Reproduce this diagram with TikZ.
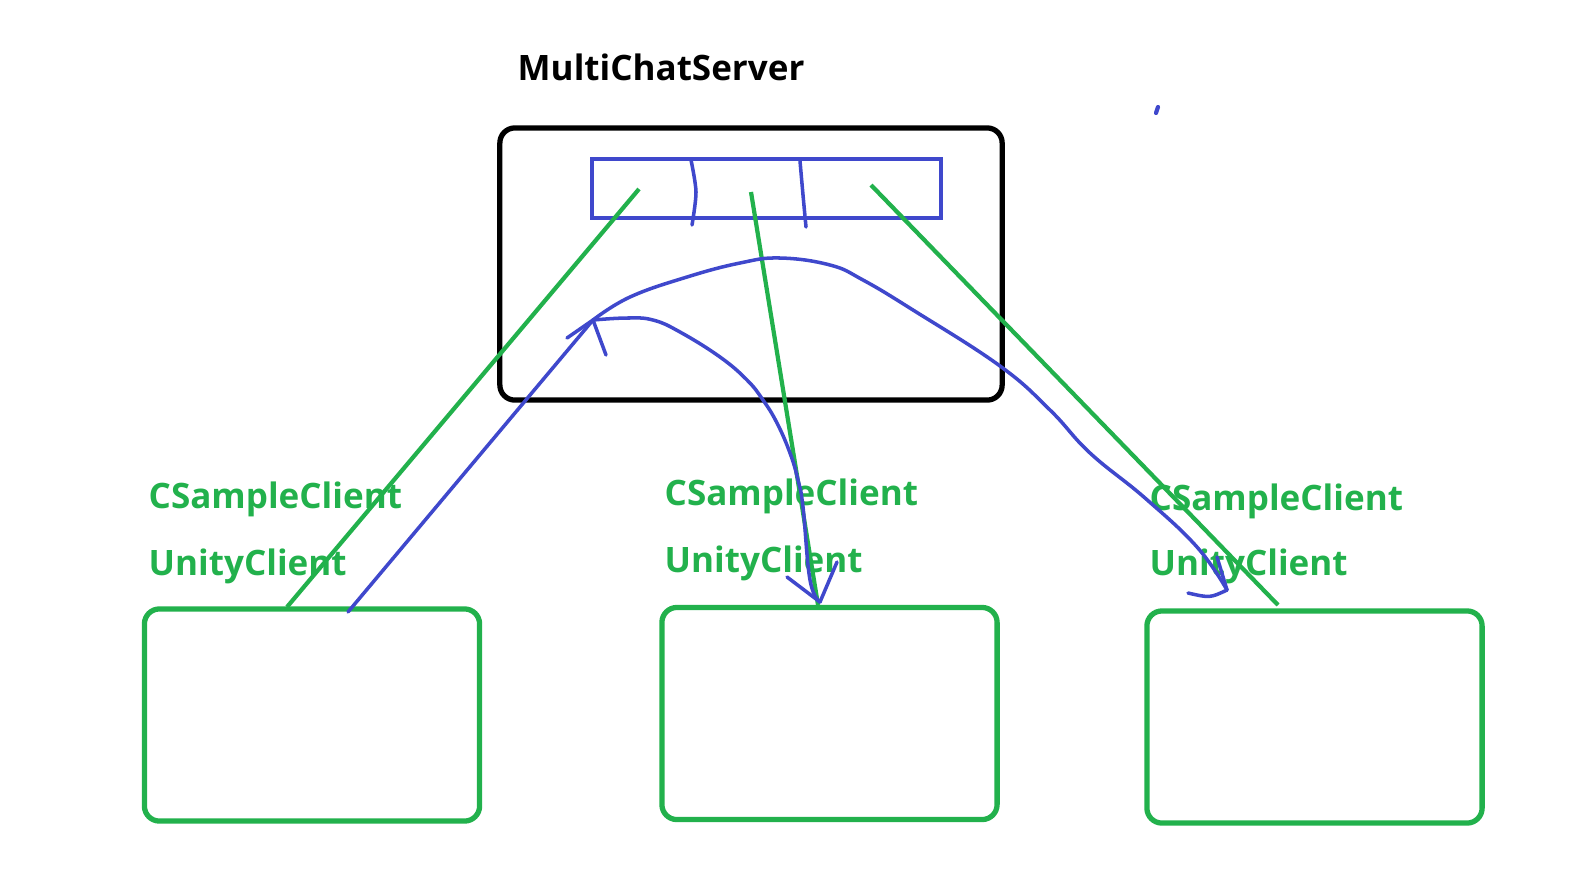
\documentclass[tikz,border=0pt]{standalone}
\usepackage{fontspec}
\setmainfont{Open Sans}
\usetikzlibrary{calc, positioning}
\definecolor{paintgreen}{RGB}{34,177,76}
\definecolor{paintblue}{RGB}{63,72,204}
\tikzstyle{serverbox} = [rectangle, rounded corners=0.15cm, minimum width=5.02cm, minimum height=2.72cm, draw=black, line width=1.5pt, inner sep=0]
\tikzstyle{queuebox} = [rectangle, minimum width=3.49cm, minimum height=0.59cm, draw=paintblue, line width=1.2pt, inner sep=0]
\tikzstyle{clientbox} = [rectangle, rounded corners=0.15cm, minimum width=3.35cm, minimum height=2.12cm, draw=paintgreen, line width=1.5pt, inner sep=0]
\tikzstyle{clientlabel} = [anchor=base west, inner sep=0, text=paintgreen, font=\fontsize{9.96pt}{12pt}\selectfont\bfseries]
\tikzstyle{servertitle} = [anchor=base west, inner sep=0, font=\fontsize{9.96pt}{12pt}\selectfont\bfseries]
\tikzstyle{wire} = [draw=paintgreen, line width=1.2pt]
\tikzstyle{penstroke} = [draw=paintblue, line width=1pt, line cap=round, line join=round]

\begin{document}
\begin{tikzpicture}[x=0.01cm, y=-0.01cm]
\useasboundingbox (0,0) rectangle (1585,869);

\node (title) [servertitle] at (517,80) {MultiChatServer};
\node (server) [serverbox] at (751,264) {};
\node (queue) [queuebox] at (766.5,188.5) {};

\node (client1) [clientbox] at (312,715) {};
\node (client2) [clientbox] at (829.5,713.5) {};
\node (client3) [clientbox] at (1314.5,717) {};

\node (csample1) [clientlabel] at (148,508) {CSampleClient};
\node (unity1) [clientlabel] at (148,575) {UnityClient};
\node (csample2) [clientlabel] at (664,505) {CSampleClient};
\node (unity2) [clientlabel] at (664,572) {UnityClient};
\node (csample3) [clientlabel] at (1149,510) {CSampleClient};
\node (unity3) [clientlabel] at (1149,575) {UnityClient};

% green links from the queue down to the clients
\coordinate (slot1) at (639,189);
\coordinate (slot2) at (751,192);
\coordinate (slot3) at (871,185);
\coordinate (port1) at (287,607);
\coordinate (port2) at (818,605);
\coordinate (port3) at (1278,605);
\draw [wire] (slot1) -- (port1);
\draw [wire] (slot2) -- (port2);
\draw [wire] (slot3) -- (port3);

% queue slots
\draw [penstroke] plot [smooth] coordinates {(691,160) (696,192) (692,225)};
\draw [penstroke] plot [smooth] coordinates {(800,161) (803,195) (806,227)};

% message flow
\coordinate (hub) at (593,320);
\coordinate (tail1) at (348,612);
\coordinate (tip2) at (820,602);
\coordinate (tip3) at (1227,590);

\draw [penstroke] (tail1) -- (hub);
\draw [penstroke] (hub) -- ++(-26,18);
\draw [penstroke] (hub) -- ++(13,35);

\draw [penstroke] plot [smooth, tension=0.7] coordinates {(hub) (630,297) (687,277) (740,263) (780,258) (830,265) (863,280) (913,310) (1000,366) (1050,410) (1090,453) (1145,498) (1197,547) (tip3)};
\draw [penstroke] (tip3) -- ++(-10,-33);
\draw [penstroke] (tip3) .. controls (1210,598) .. ($(tip3)+(-39,3)$);

\draw [penstroke] plot [smooth, tension=0.7] coordinates {(hub) (627,318) (653,320) (680,332) (720,357) (747,380) (763,400) (777,423) (790,453) (798,480) (803,507) (810,580) (tip2)};
\draw [penstroke] (tip2) -- ++(-33,-25);
\draw [penstroke] (tip2) -- ++(17,-40);

\draw [penstroke, line width=1.2pt] (1156,113) -- (1158,107);

\end{tikzpicture}
\end{document}
